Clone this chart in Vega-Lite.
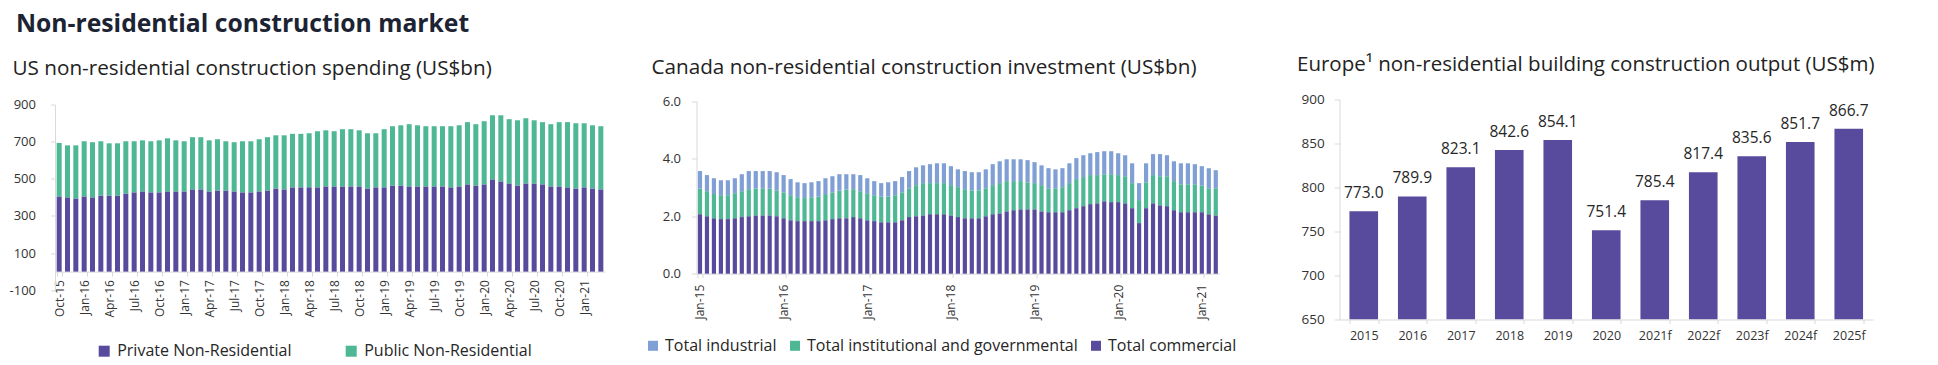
{
  "$schema": "https://vega.github.io/schema/vega-lite/v6.json",
  "padding": {"left": 9, "top": 11.5, "right": 5, "bottom": 4},
  "background": "white",
  "config": {
    "font": "Open Sans",
    "view": {"stroke": null},
    "axis": {"domainColor": "#d9d9d9", "tickColor": "#d9d9d9", "labelColor": "#333333", "grid": false, "title": null, "labelFont": "Open Sans"},
    "legend": {"labelFont": "Open Sans", "labelColor": "#262626"}
  },
  "title": {"text": "Non-residential construction market", "anchor": "start", "fontSize": 24.7, "fontWeight": "bold", "color": "#1c2333", "offset": 18.3, "dx": 7, "font": "Open Sans"},
  "datasets": {
    "us": [
      {"m":"Oct-15","Private Non-Residential":405,"Public Non-Residential":288},
      {"m":"Nov-15","Private Non-Residential":400,"Public Non-Residential":280},
      {"m":"Dec-15","Private Non-Residential":394,"Public Non-Residential":286},
      {"m":"Jan-16","Private Non-Residential":405,"Public Non-Residential":297},
      {"m":"Feb-16","Private Non-Residential":400,"Public Non-Residential":297},
      {"m":"Mar-16","Private Non-Residential":410,"Public Non-Residential":292},
      {"m":"Apr-16","Private Non-Residential":410,"Public Non-Residential":281},
      {"m":"May-16","Private Non-Residential":410,"Public Non-Residential":281},
      {"m":"Jun-16","Private Non-Residential":421,"Public Non-Residential":281},
      {"m":"Jul-16","Private Non-Residential":427,"Public Non-Residential":275},
      {"m":"Aug-16","Private Non-Residential":432,"Public Non-Residential":275},
      {"m":"Sep-16","Private Non-Residential":427,"Public Non-Residential":275},
      {"m":"Oct-16","Private Non-Residential":427,"Public Non-Residential":280},
      {"m":"Nov-16","Private Non-Residential":432,"Public Non-Residential":286},
      {"m":"Dec-16","Private Non-Residential":432,"Public Non-Residential":275},
      {"m":"Jan-17","Private Non-Residential":432,"Public Non-Residential":270},
      {"m":"Feb-17","Private Non-Residential":443,"Public Non-Residential":281},
      {"m":"Mar-17","Private Non-Residential":443,"Public Non-Residential":281},
      {"m":"Apr-17","Private Non-Residential":432,"Public Non-Residential":275},
      {"m":"May-17","Private Non-Residential":437,"Public Non-Residential":276},
      {"m":"Jun-17","Private Non-Residential":437,"Public Non-Residential":265},
      {"m":"Jul-17","Private Non-Residential":432,"Public Non-Residential":265},
      {"m":"Aug-17","Private Non-Residential":427,"Public Non-Residential":275},
      {"m":"Sep-17","Private Non-Residential":427,"Public Non-Residential":275},
      {"m":"Oct-17","Private Non-Residential":432,"Public Non-Residential":281},
      {"m":"Nov-17","Private Non-Residential":437,"Public Non-Residential":287},
      {"m":"Dec-17","Private Non-Residential":448,"Public Non-Residential":286},
      {"m":"Jan-18","Private Non-Residential":443,"Public Non-Residential":291},
      {"m":"Feb-18","Private Non-Residential":454,"Public Non-Residential":288},
      {"m":"Mar-18","Private Non-Residential":454,"Public Non-Residential":288},
      {"m":"Apr-18","Private Non-Residential":454,"Public Non-Residential":291},
      {"m":"May-18","Private Non-Residential":454,"Public Non-Residential":302},
      {"m":"Jun-18","Private Non-Residential":459,"Public Non-Residential":302},
      {"m":"Jul-18","Private Non-Residential":459,"Public Non-Residential":297},
      {"m":"Aug-18","Private Non-Residential":459,"Public Non-Residential":308},
      {"m":"Sep-18","Private Non-Residential":459,"Public Non-Residential":308},
      {"m":"Oct-18","Private Non-Residential":459,"Public Non-Residential":302},
      {"m":"Nov-18","Private Non-Residential":448,"Public Non-Residential":297},
      {"m":"Dec-18","Private Non-Residential":454,"Public Non-Residential":291},
      {"m":"Jan-19","Private Non-Residential":454,"Public Non-Residential":313},
      {"m":"Feb-19","Private Non-Residential":464,"Public Non-Residential":319},
      {"m":"Mar-19","Private Non-Residential":464,"Public Non-Residential":324},
      {"m":"Apr-19","Private Non-Residential":459,"Public Non-Residential":335},
      {"m":"May-19","Private Non-Residential":459,"Public Non-Residential":329},
      {"m":"Jun-19","Private Non-Residential":459,"Public Non-Residential":324},
      {"m":"Jul-19","Private Non-Residential":459,"Public Non-Residential":324},
      {"m":"Aug-19","Private Non-Residential":459,"Public Non-Residential":324},
      {"m":"Sep-19","Private Non-Residential":454,"Public Non-Residential":329},
      {"m":"Oct-19","Private Non-Residential":459,"Public Non-Residential":329},
      {"m":"Nov-19","Private Non-Residential":470,"Public Non-Residential":335},
      {"m":"Dec-19","Private Non-Residential":464,"Public Non-Residential":330},
      {"m":"Jan-20","Private Non-Residential":470,"Public Non-Residential":340},
      {"m":"Feb-20","Private Non-Residential":497,"Public Non-Residential":345},
      {"m":"Mar-20","Private Non-Residential":486,"Public Non-Residential":356},
      {"m":"Apr-20","Private Non-Residential":475,"Public Non-Residential":346},
      {"m":"May-20","Private Non-Residential":464,"Public Non-Residential":351},
      {"m":"Jun-20","Private Non-Residential":475,"Public Non-Residential":351},
      {"m":"Jul-20","Private Non-Residential":475,"Public Non-Residential":340},
      {"m":"Aug-20","Private Non-Residential":470,"Public Non-Residential":335},
      {"m":"Sep-20","Private Non-Residential":459,"Public Non-Residential":335},
      {"m":"Oct-20","Private Non-Residential":459,"Public Non-Residential":346},
      {"m":"Nov-20","Private Non-Residential":454,"Public Non-Residential":351},
      {"m":"Dec-20","Private Non-Residential":448,"Public Non-Residential":351},
      {"m":"Jan-21","Private Non-Residential":454,"Public Non-Residential":345},
      {"m":"Feb-21","Private Non-Residential":448,"Public Non-Residential":340},
      {"m":"Mar-21","Private Non-Residential":443,"Public Non-Residential":340}
    ],
    "ca": [
      {"m":"Jan-15","a":2.07,"b":0.89,"c":0.61},
      {"m":"Feb-15","a":2.00,"b":0.87,"c":0.56},
      {"m":"Mar-15","a":1.93,"b":0.84,"c":0.55},
      {"m":"Apr-15","a":1.90,"b":0.83,"c":0.52},
      {"m":"May-15","a":1.90,"b":0.83,"c":0.52},
      {"m":"Jun-15","a":1.93,"b":0.87,"c":0.52},
      {"m":"Jul-15","a":1.97,"b":0.90,"c":0.59},
      {"m":"Aug-15","a":2.00,"b":0.94,"c":0.63},
      {"m":"Sep-15","a":2.03,"b":0.93,"c":0.61},
      {"m":"Oct-15","a":2.03,"b":0.94,"c":0.60},
      {"m":"Nov-15","a":2.03,"b":0.93,"c":0.61},
      {"m":"Dec-15","a":2.00,"b":0.90,"c":0.63},
      {"m":"Jan-16","a":1.93,"b":0.90,"c":0.60},
      {"m":"Feb-16","a":1.86,"b":0.87,"c":0.56},
      {"m":"Mar-16","a":1.83,"b":0.83,"c":0.52},
      {"m":"Apr-16","a":1.83,"b":0.80,"c":0.52},
      {"m":"May-16","a":1.83,"b":0.83,"c":0.52},
      {"m":"Jun-16","a":1.83,"b":0.85,"c":0.54},
      {"m":"Jul-16","a":1.86,"b":0.91,"c":0.55},
      {"m":"Aug-16","a":1.90,"b":0.93,"c":0.56},
      {"m":"Sep-16","a":1.93,"b":0.96,"c":0.57},
      {"m":"Oct-16","a":1.93,"b":1.00,"c":0.53},
      {"m":"Nov-16","a":1.97,"b":0.97,"c":0.52},
      {"m":"Dec-16","a":1.93,"b":0.94,"c":0.56},
      {"m":"Jan-17","a":1.86,"b":0.94,"c":0.52},
      {"m":"Feb-17","a":1.83,"b":0.90,"c":0.49},
      {"m":"Mar-17","a":1.79,"b":0.89,"c":0.47},
      {"m":"Apr-17","a":1.79,"b":0.89,"c":0.50},
      {"m":"May-17","a":1.79,"b":0.94,"c":0.49},
      {"m":"Jun-17","a":1.86,"b":0.97,"c":0.53},
      {"m":"Jul-17","a":1.97,"b":1.00,"c":0.60},
      {"m":"Aug-17","a":2.00,"b":1.08,"c":0.62},
      {"m":"Sep-17","a":2.03,"b":1.12,"c":0.62},
      {"m":"Oct-17","a":2.07,"b":1.08,"c":0.66},
      {"m":"Nov-17","a":2.07,"b":1.08,"c":0.69},
      {"m":"Dec-17","a":2.07,"b":1.08,"c":0.69},
      {"m":"Jan-18","a":2.03,"b":1.05,"c":0.66},
      {"m":"Feb-18","a":1.97,"b":1.04,"c":0.62},
      {"m":"Mar-18","a":1.93,"b":1.01,"c":0.63},
      {"m":"Apr-18","a":1.93,"b":0.97,"c":0.63},
      {"m":"May-18","a":1.93,"b":0.97,"c":0.63},
      {"m":"Jun-18","a":2.00,"b":0.97,"c":0.66},
      {"m":"Jul-18","a":2.07,"b":1.01,"c":0.73},
      {"m":"Aug-18","a":2.10,"b":1.05,"c":0.76},
      {"m":"Sep-18","a":2.17,"b":1.05,"c":0.76},
      {"m":"Oct-18","a":2.21,"b":1.01,"c":0.76},
      {"m":"Nov-18","a":2.24,"b":0.98,"c":0.76},
      {"m":"Dec-18","a":2.24,"b":0.94,"c":0.77},
      {"m":"Jan-19","a":2.24,"b":0.91,"c":0.73},
      {"m":"Feb-19","a":2.17,"b":0.91,"c":0.69},
      {"m":"Mar-19","a":2.14,"b":0.83,"c":0.70},
      {"m":"Apr-19","a":2.14,"b":0.83,"c":0.66},
      {"m":"May-19","a":2.14,"b":0.87,"c":0.66},
      {"m":"Jun-19","a":2.21,"b":0.94,"c":0.69},
      {"m":"Jul-19","a":2.28,"b":1.01,"c":0.73},
      {"m":"Aug-19","a":2.35,"b":1.01,"c":0.76},
      {"m":"Sep-19","a":2.42,"b":1.01,"c":0.76},
      {"m":"Oct-19","a":2.45,"b":0.98,"c":0.80},
      {"m":"Nov-19","a":2.52,"b":0.94,"c":0.80},
      {"m":"Dec-19","a":2.49,"b":0.97,"c":0.80},
      {"m":"Jan-20","a":2.49,"b":0.94,"c":0.76},
      {"m":"Feb-20","a":2.45,"b":0.94,"c":0.73},
      {"m":"Mar-20","a":2.28,"b":0.87,"c":0.69},
      {"m":"Apr-20","a":1.76,"b":0.80,"c":0.59},
      {"m":"May-20","a":2.28,"b":0.90,"c":0.66},
      {"m":"Jun-20","a":2.45,"b":0.98,"c":0.73},
      {"m":"Jul-20","a":2.38,"b":1.01,"c":0.77},
      {"m":"Aug-20","a":2.35,"b":1.04,"c":0.73},
      {"m":"Sep-20","a":2.21,"b":1.01,"c":0.69},
      {"m":"Oct-20","a":2.14,"b":0.97,"c":0.73},
      {"m":"Nov-20","a":2.14,"b":0.97,"c":0.73},
      {"m":"Dec-20","a":2.14,"b":0.97,"c":0.70},
      {"m":"Jan-21","a":2.14,"b":0.92,"c":0.68},
      {"m":"Feb-21","a":2.07,"b":0.90,"c":0.70},
      {"m":"Mar-21","a":2.03,"b":0.94,"c":0.63}
    ],
    "eu": [
      {"year":"2015","value":773.0},
      {"year":"2016","value":789.9},
      {"year":"2017","value":823.1},
      {"year":"2018","value":842.6},
      {"year":"2019","value":854.1},
      {"year":"2020","value":751.4},
      {"year":"2021f","value":785.4},
      {"year":"2022f","value":817.4},
      {"year":"2023f","value":835.6},
      {"year":"2024f","value":851.7},
      {"year":"2025f","value":866.7}
    ]
  },
  "spacing": 39.5,
  "resolve": {"scale": {"x": "independent", "y": "independent", "color": "independent"}, "legend": {"color": "independent"}},
  "hconcat": [
    {
      "width": 550,
      "height": 190.7,
      "title": {"text": "US non-residential construction spending (US$bn)", "anchor": "start", "frame": "group", "dx": -42.5, "fontSize": 20.7, "fontWeight": "normal", "color": "#222222", "offset": 18.6},
      "data": {"name": "us"},
      "transform": [{"fold": ["Private Non-Residential", "Public Non-Residential"]}],
      "mark": {"type": "bar"},
      "encoding": {
        "x": {"field": "m", "type": "ordinal", "sort": null, "scale": {"paddingInner": 0.4, "paddingOuter": 0.2},
          "axis": {"values": ["Oct-15","Jan-16","Apr-16","Jul-16","Oct-16","Jan-17","Apr-17","Jul-17","Oct-17","Jan-18","Apr-18","Jul-18","Oct-18","Jan-19","Apr-19","Jul-19","Oct-19","Jan-20","Apr-20","Jul-20","Oct-20","Jan-21"],
            "labelAngle": -90, "tickBand": "extent", "offset": -18.6, "tickSize": 4.5, "labelPadding": 3.5, "labelFontSize": 12}},
        "y": {"field": "value", "type": "quantitative", "stack": "zero", "scale": {"domain": [-100, 900], "range": [190.7, 5]},
          "axis": {"values": [-100, 100, 300, 500, 700, 900], "tickSize": 4.5, "labelPadding": 15, "labelFontSize": 13, "labelExpr": "replace(datum.label, '−', '-')"}},
        "color": {"field": "key", "type": "nominal",
          "scale": {"domain": ["Private Non-Residential", "Public Non-Residential"], "range": ["#584A9D", "#4EB794"]},
          "legend": {"orient": "none", "legendX": 41.2, "legendY": 243.7, "direction": "horizontal", "title": null, "symbolType": "square", "symbolSize": 121, "symbolStrokeWidth": 0, "labelFontSize": 16, "labelOffset": 5, "columnPadding": 51, "labelLimit": 400}},
        "order": {"field": "key", "sort": "ascending"}
      }
    },
    {
      "spacing": 59,
      "resolve": {"scale": {"x": "independent", "y": "independent", "color": "independent"}, "legend": {"color": "independent"}},
      "hconcat": [
        {
          "width": 522.75,
          "height": 174.2,
          "title": {"text": "Canada non-residential construction investment (US$bn)", "anchor": "start", "frame": "group", "dx": -45, "fontSize": 20.7, "fontWeight": "normal", "color": "#222222", "offset": 16.6},
          "data": {"name": "ca"},
          "transform": [
            {"fold": ["a", "b", "c"], "as": ["k", "value"]},
            {"lookup": "k", "from": {"data": {"values": [{"k": "a", "series": "Total commercial"}, {"k": "b", "series": "Total institutional and governmental"}, {"k": "c", "series": "Total industrial"}]}, "key": "k", "fields": ["series"]}}
          ],
          "mark": {"type": "bar"},
          "encoding": {
            "x": {"field": "m", "type": "ordinal", "sort": null, "scale": {"paddingInner": 0.4, "paddingOuter": 0.2},
              "axis": {"values": ["Jan-15","Jan-16","Jan-17","Jan-18","Jan-19","Jan-20","Jan-21"], "labelAngle": -90, "tickBand": "extent", "tickSize": 4, "labelPadding": 6.5, "labelFontSize": 12}},
            "y": {"field": "value", "type": "quantitative", "stack": "zero", "scale": {"domain": [0, 6], "range": [174.2, 1.7]},
              "axis": {"values": [0, 2, 4, 6], "format": ".1f", "tickSize": 5, "labelPadding": 11, "labelFontSize": 13}},
            "color": {"field": "series", "type": "nominal",
              "scale": {"domain": ["Total industrial", "Total institutional and governmental", "Total commercial"], "range": ["#7F9FD5", "#4EB794", "#584A9D"]},
              "legend": {"orient": "none", "legendX": -51.5, "legendY": 238.3, "direction": "horizontal", "title": null, "symbolType": "square", "symbolSize": 100, "symbolStrokeWidth": 0, "labelFontSize": 16, "labelOffset": 4, "columnPadding": 10, "labelLimit": 400}},
            "order": {"field": "k", "sort": "ascending"}
          }
        },
        {
          "width": 533.5,
          "height": 220,
          "title": {"text": "Europe¹ non-residential building construction output (US$m)", "anchor": "start", "frame": "group", "dx": -42.5, "fontSize": 20.5, "fontWeight": "normal", "color": "#222222", "offset": 16.6},
          "data": {"name": "eu"},
          "encoding": {
            "x": {"field": "year", "type": "ordinal", "sort": null, "scale": {"paddingInner": 0.41, "paddingOuter": 0.205},
              "axis": {"labelAngle": 0, "tickBand": "extent", "tickSize": 4, "labelPadding": 6, "labelFontSize": 12.5}},
            "y": {"field": "value", "type": "quantitative", "scale": {"domain": [650, 900], "zero": false},
              "axis": {"values": [650, 700, 750, 800, 850, 900], "tickSize": 5.3, "labelPadding": 10, "labelFontSize": 13.5}}
          },
          "layer": [
            {"mark": {"type": "bar", "color": "#584A9D", "clip": true}, "encoding": {"y2": {"datum": 650}}},
            {"mark": {"type": "text", "baseline": "alphabetic", "dy": -13, "fontSize": 15.5, "color": "#262626"},
              "encoding": {"text": {"field": "value", "type": "quantitative", "format": ".1f"}}}
          ]
        }
      ]
    }
  ]
}
